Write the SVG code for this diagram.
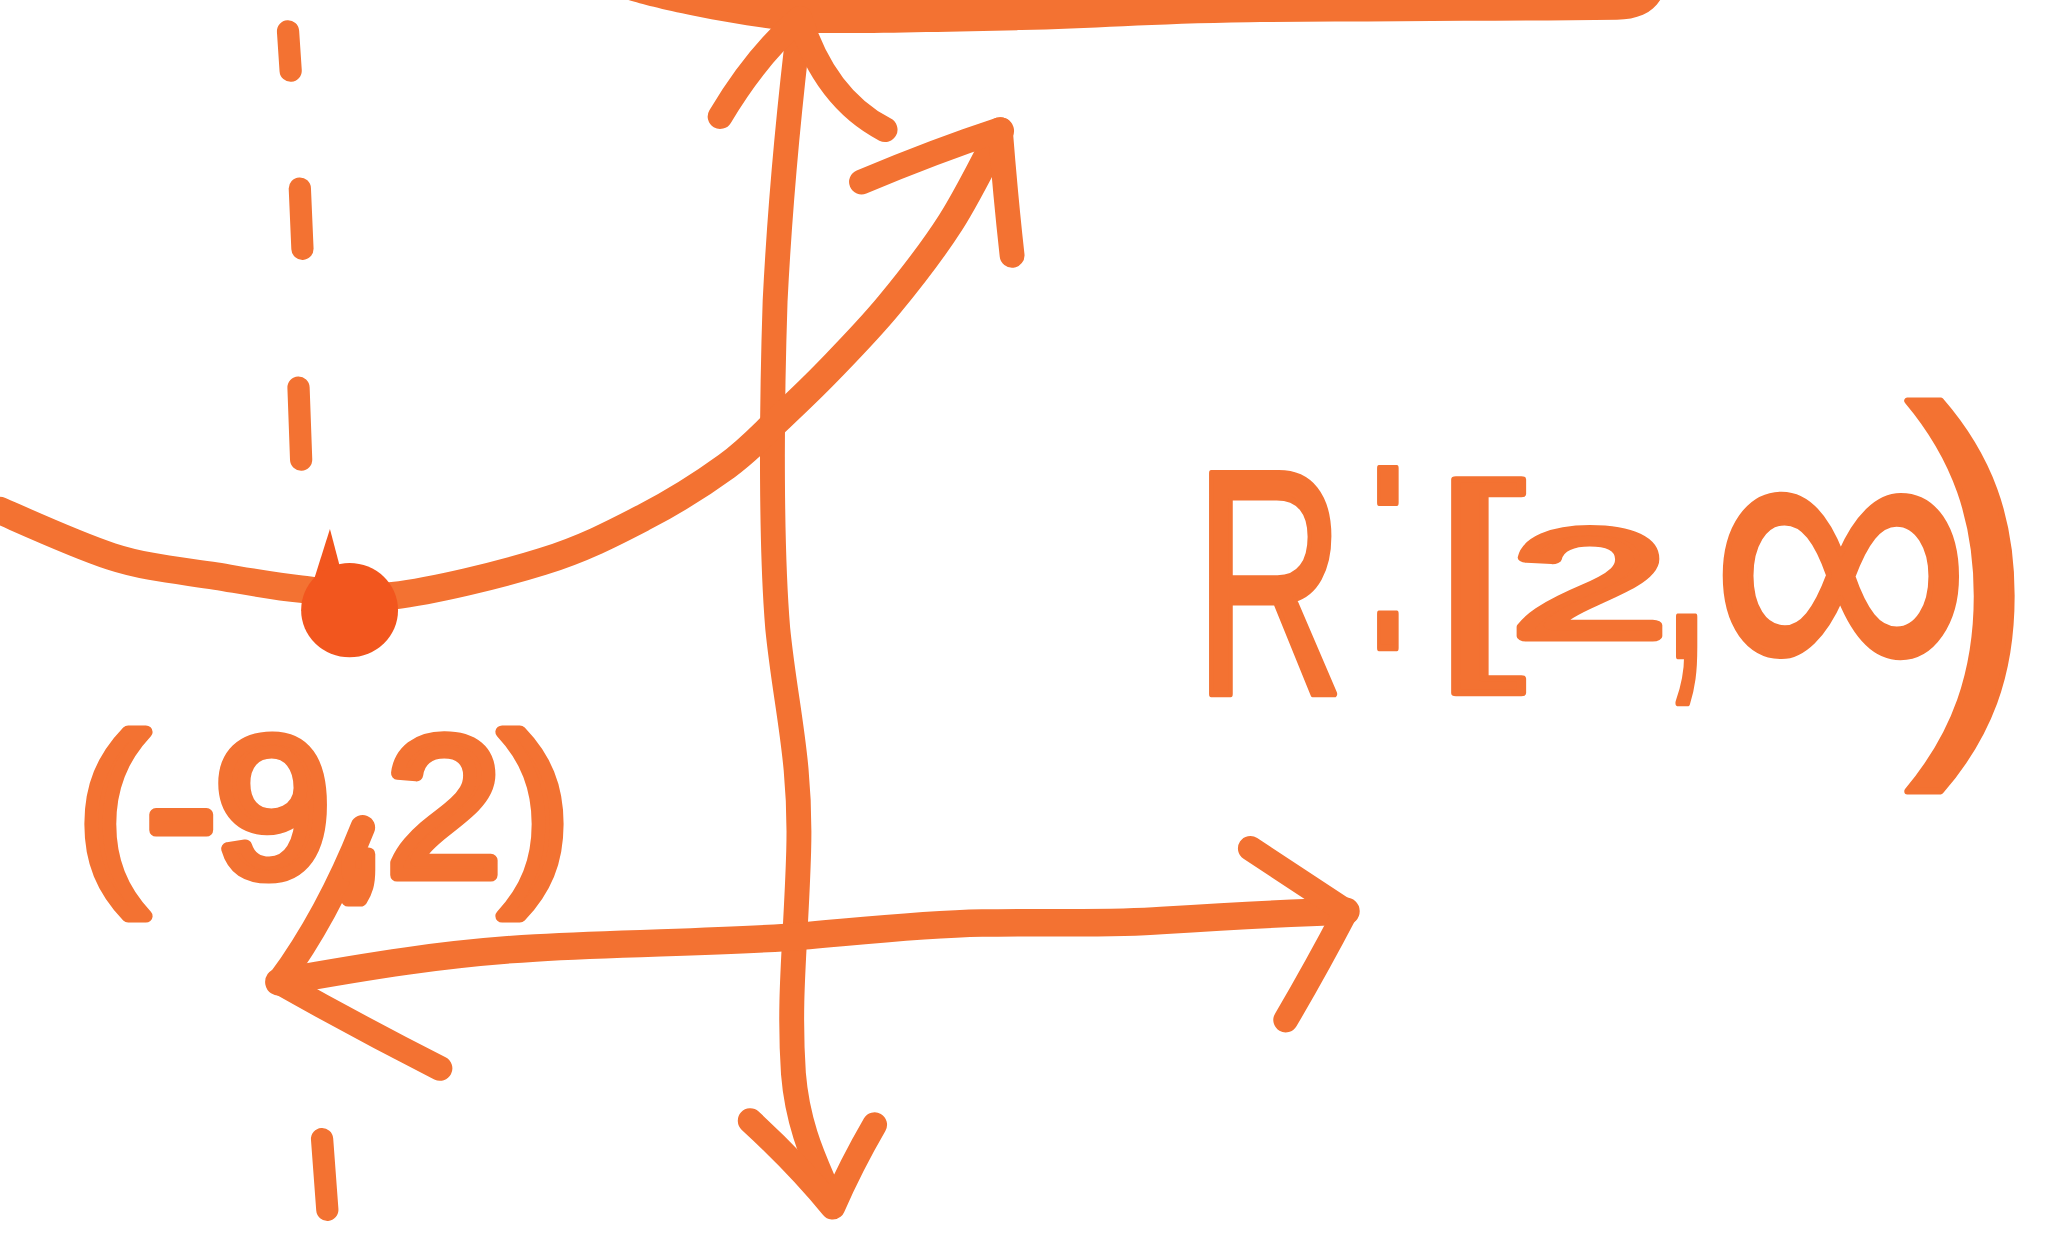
<svg xmlns="http://www.w3.org/2000/svg" width="2053" height="1238" viewBox="0 0 2053 1238">
<style>
.ink{fill:none;stroke:#F37232;stroke-linecap:round;stroke-linejoin:round}
.axis{stroke-width:19}
.curve{stroke-width:21}
.dash{stroke-width:17}
.hand{fill:#F37232;stroke:#F37232;stroke-linejoin:round;stroke-linecap:round;font-family:"Liberation Sans",Arial,sans-serif}
</style>
<rect width="2053" height="1238" fill="#FFFFFF"/>
<g transform="scale(1.3093)">
<g id="top-edge">
<path d="M480,0 L1268,0 C1262,10 1250,15 1235,15 C1150,16 1050,16 954,17 C880,18 830,22 780,23 C720,24 660,26 620,25 C590,23 560,18 530,12 C505,7 490,3 480,0 Z" fill="#F37232"/>
</g>
<g id="asymptote" class="ink dash">
<line x1="220" y1="24" x2="222" y2="54"/>
<line x1="229" y1="144" x2="231" y2="190"/>
<line x1="228" y1="296" x2="230" y2="351"/>
<line x1="246" y1="870" x2="250" y2="924"/>
</g>
<g id="connectors">
<g id="y-axis" class="ink axis">
<path d="M611,14 C603,80 596,150 592,230 C589,320 589,420 594,480 C600,540 612,580 610,650 C608,720 602,760 606,820 C610,870 630,900 636,920"/>
<path d="M550,89 Q578,42 611,14 Q630,75 676,99"/>
<path d="M573,856 Q610,890 636,922 Q650,890 668,859"/>
</g>
<g id="x-axis" class="ink axis">
<path d="M213,750 C280,738 340,728 409,724 C480,720 540,720 600,716 C650,712 700,706 750,705 C800,704 850,706 887,703 C950,699 990,697 1028,696" stroke-width="21"/>
<path d="M277,632 Q250,700 213,750 Q275,785 336,816"/>
<path d="M955,648 L1028,696 Q1005,740 982,779"/>
</g>
<g id="curve" class="ink curve">
<path d="M0,390 C14,396 57.5,416 85,425 C112.5,434 140.8,436 165,440 C189,444 207.5,447.5 230,450 C252.5,452.5 269.3,458.5 300,455 C330.7,451.5 382,439 414,429 C446,419 468.5,407.2 492,395 C515.5,382.8 537.8,368.5 555,356 C572.2,343.5 582,332.2 595,320 C608,307.8 619,297.5 633,283 C647,268.5 663.5,251.8 679,233 C694.5,214.2 711.8,192.2 726,170 C740.2,147.8 757.7,111.7 764,100"/>
<path d="M658,139 Q715,115 764,99 Q768,150 773,195" stroke-width="19"/>
</g>
</g>
<g id="vertex">
<path d="M252,404 L262,442 L240,442 Z" fill="#F2561E"/>
<ellipse cx="267" cy="466" rx="37" ry="36" fill="#F2561E"/>
</g>
<g id="vertex-label">
<text class="hand" x="60" y="668" font-size="150" stroke-width="10" textLength="375" lengthAdjust="spacingAndGlyphs">(-9,2)</text>
</g>
<g id="range-label">
<text class="hand" stroke-width="5"><tspan x="912" y="530" font-size="245" textLength="115" lengthAdjust="spacingAndGlyphs">R</tspan><tspan x="1040" y="495" font-size="260" textLength="40" lengthAdjust="spacingAndGlyphs">:</tspan><tspan x="1094" y="493" font-size="175" textLength="70" lengthAdjust="spacingAndGlyphs">[</tspan><tspan x="1155" y="486" font-size="116" textLength="118" lengthAdjust="spacingAndGlyphs" stroke-width="8">2</tspan><tspan x="1268" y="501" font-size="280" textLength="40" lengthAdjust="spacingAndGlyphs">,</tspan><tspan x="1306" y="534" font-size="325" textLength="200" lengthAdjust="spacingAndGlyphs">∞</tspan><tspan x="1455" y="538" font-size="320" textLength="100" lengthAdjust="spacingAndGlyphs">)</tspan></text>
</g>
</g>
</svg>
